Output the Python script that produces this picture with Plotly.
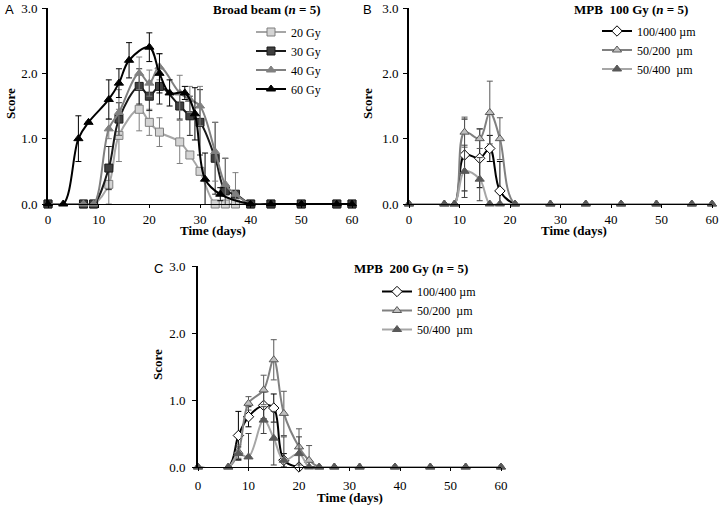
import plotly.graph_objects as go

# ---------------- Data ----------------
# Panel A: Broad beam
a_days = [0, 7, 9, 12, 14, 18, 20, 22, 26, 28, 30, 33, 35, 37, 40, 44, 50, 57, 60]
a_20 = [0, 0, 0, 0.3, 1.05, 1.45, 1.25, 1.1, 0.95, 0.75, 0.5, 0, 0, 0, 0, 0, 0, 0, 0]
a_20_err = [0, 0, 0, 0.3, 0.4, 0.33, 0.2, 0.22, 0.33, 0, 0, 0, 0, 0, 0, 0, 0, 0, 0]
a_30 = [0, 0, 0, 0.55, 1.3, 1.8, 1.65, 1.8, 1.5, 1.35, 1.25, 0.7, 0.2, 0.15, 0, 0, 0, 0, 0]
a_30_err = [0, 0, 0, 0.33, 0.25, 0.27, 0.22, 0.27, 0.2, 0.3, 0.5, 0.55, 0.5, 0, 0, 0, 0, 0, 0]
a_40 = [0, 0, 0, 1.15, 1.4, 2.0, 1.85, 2.1, 1.7, 1.6, 1.5, 0.8, 0.3, 0.15, 0, 0, 0, 0, 0]
a_40_err = [0, 0, 0, 0.15, 0.35, 0.25, 0.2, 0.2, 0.27, 0.2, 0.3, 0.45, 0.4, 0.33, 0, 0, 0, 0, 0]
a60_days = [0, 3, 6, 8, 12, 14, 16, 20, 22, 24, 27, 29, 31, 34, 40, 44, 50, 57, 60]
a_60 = [0, 0, 1.0, 1.25, 1.6, 1.85, 2.2, 2.4, 2.0, 1.7, 1.7, 1.38, 0.38, 0.15, 0, 0, 0, 0, 0]
a_60_err = [0, 0, 0.35, 0, 0.3, 0.22, 0.27, 0.22, 0.3, 0.2, 0.1, 0.4, 0.4, 0.1, 0, 0, 0, 0, 0]

# Panel B: MPB 100 Gy
b_days = [0, 7, 9, 11, 14, 16, 18, 21, 28, 35, 42, 49, 56, 60]
b_100_400 = [0, 0, 0, 0.75, 0.7, 0.85, 0.2, 0, 0, 0, 0, 0, 0, 0]
b_100_400_err = [0, 0, 0, 0.55, 0.45, 0.2, 0.45, 0, 0, 0, 0, 0, 0, 0]
b_50_200 = [0, 0, 0, 1.1, 1.0, 1.4, 1.0, 0, 0, 0, 0, 0, 0, 0]
b_50_200_err = [0, 0, 0, 0.23, 0.15, 0.48, 0.32, 0, 0, 0, 0, 0, 0, 0]
b_50_400 = [0, 0, 0, 0.5, 0.38, 0, 0, 0, 0, 0, 0, 0, 0, 0]
b_50_400_err = [0, 0, 0, 0.4, 0.33, 0, 0, 0, 0, 0, 0, 0, 0, 0]

# Panel C: MPB 200 Gy
c_days = [0, 6, 8, 10, 13, 15, 17, 20, 22, 24, 27, 32, 39, 46, 53, 60]
c_100_400 = [0, 0, 0.47, 0.75, 0.92, 0.88, 0.1, 0, 0, 0, 0, 0, 0, 0, 0, 0]
c_100_400_err = [0, 0, 0.36, 0.15, 0.2, 0.21, 0.1, 0, 0, 0, 0, 0, 0, 0, 0, 0]
c_50_200 = [0, 0, 0.23, 0.95, 1.15, 1.6, 0.8, 0.3, 0.1, 0, 0, 0, 0, 0, 0, 0]
c_50_200_err = [0, 0, 0.1, 0.1, 0.22, 0.3, 0.33, 0.27, 0.22, 0, 0, 0, 0, 0, 0, 0]
c_50_400 = [0, 0, 0.2, 0.15, 0.7, 0.43, 0.1, 0.2, 0, 0, 0, 0, 0, 0, 0, 0]
c_50_400_err = [0, 0, 0.1, 0.35, 0.2, 0.4, 0.35, 0.25, 0, 0, 0, 0, 0, 0, 0, 0]

x_ticks = [0, 10, 20, 30, 40, 50, 60]
y_ticks = [0, 1, 2, 3]

SERIF = "Liberation Serif, Times New Roman, serif"
SANS = "Liberation Sans, Arial, sans-serif"
W, H = 720, 506

fig = go.Figure()


def add(x, y, err, name, xa, ya, leg, line_color, symbol, fill, edge, err_color, shown=None):
    kw = {}
    if shown is not None:
        # points hidden beneath the dark triangles in the original
        kw = dict(selectedpoints=shown,
                  selected=dict(marker=dict(opacity=1)),
                  unselected=dict(marker=dict(opacity=0)))
    fig.add_trace(go.Scatter(
        x=x, y=y, name=name, mode="lines+markers",
        xaxis=xa, yaxis=ya, legend=leg,
        line=dict(color=line_color, width=2, shape="spline", smoothing=1),
        marker=dict(symbol=symbol, size=8, color=fill, line=dict(color=edge, width=1)),
        error_y=dict(type="data", array=err, color=err_color, thickness=1, width=3, visible=True),
        cliponaxis=False, **kw,
    ))


def shown_points(vals, top_vals):
    return [i for i, (v, t) in enumerate(zip(vals, top_vals)) if not (v == 0 and t == 0)]


# Panel A
add(a_days, a_20, a_20_err, "20 Gy", "x", "y", "legend", "#a6a6a6", "square", "#d4d4d4", "#7f7f7f", "#7f7f7f")
add(a_days, a_30, a_30_err, "30 Gy", "x", "y", "legend", "#1a1a1a", "square", "#3f3f3f", "#1a1a1a", "#262626")
add(a_days, a_40, a_40_err, "40 Gy", "x", "y", "legend", "#808080", "triangle-up", "#808080", "#808080", "#7f7f7f")
add(a60_days, a_60, a_60_err, "60 Gy", "x", "y", "legend", "#000000", "triangle-up", "#000000", "#000000", "#000000")

# Panel B
add(b_days, b_100_400, b_100_400_err, "100/400 µm", "x2", "y2", "legend2", "#000000", "diamond", "#ffffff", "#000000", "#000000",
    shown=shown_points(b_100_400, b_50_400))
add(b_days, b_50_200, b_50_200_err, "50/200\u00a0 µm", "x2", "y2", "legend2", "#808080", "triangle-up", "#bfbfbf", "#595959", "#595959")
add(b_days, b_50_400, b_50_400_err, "50/400\u00a0 µm", "x2", "y2", "legend2", "#a6a6a6", "triangle-up", "#595959", "#595959", "#404040")

# Panel C
add(c_days, c_100_400, c_100_400_err, "100/400 µm", "x3", "y3", "legend3", "#000000", "diamond", "#ffffff", "#000000", "#000000",
    shown=shown_points(c_100_400, c_50_400))
add(c_days, c_50_200, c_50_200_err, "50/200\u00a0 µm", "x3", "y3", "legend3", "#808080", "triangle-up", "#bfbfbf", "#595959", "#595959")
add(c_days, c_50_400, c_50_400_err, "50/400\u00a0 µm", "x3", "y3", "legend3", "#a6a6a6", "triangle-up", "#595959", "#595959", "#404040")


def px_x(p):
    return p / W


def px_y(p):
    return 1 - p / H


def xaxis(dom, anchor, standoff):
    return dict(domain=dom, anchor=anchor, range=[0, 60], tickvals=x_ticks,
                showline=True, linecolor="black", linewidth=1, showgrid=False, zeroline=False,
                ticks="outside", ticklen=3, tickcolor="black", automargin=False,
                ticklabelstandoff=standoff,
                tickfont=dict(family=SERIF, size=13, color="black"))


def yaxis(dom, anchor, standoff):
    return dict(domain=dom, anchor=anchor, range=[0, 3], tickvals=y_ticks, tickformat=".1f",
                showline=True, linecolor="black", linewidth=2, showgrid=False, zeroline=False,
                ticks="outside", ticklen=4, tickcolor="black", automargin=False,
                ticklabelstandoff=standoff,
                tickfont=dict(family=SERIF, size=13, color="black"))


legend_common = dict(xanchor="left", yanchor="top", bgcolor="rgba(0,0,0,0)",
                     font=dict(family=SERIF, size=12, color="black"), itemwidth=30,
                     tracegroupgap=0)

fig.update_layout(
    width=W, height=H, margin=dict(l=0, r=0, t=0, b=0, autoexpand=False),
    paper_bgcolor="white", plot_bgcolor="white",
    xaxis=xaxis([px_x(48), px_x(352)], "y", 0),
    yaxis=yaxis([px_y(204), px_y(8)], "x", 2),
    xaxis2=xaxis([px_x(409), px_x(712)], "y2", 0),
    yaxis2=yaxis([px_y(204), px_y(8)], "x2", 2),
    xaxis3=xaxis([px_x(198), px_x(501)], "y3", 3),
    yaxis3=yaxis([px_y(467), px_y(266)], "x3", 4),
    legend=dict(x=px_x(251), y=px_y(17.5), **legend_common),
    legend2=dict(x=px_x(597), y=px_y(16.5), **legend_common),
    legend3=dict(x=px_x(377), y=px_y(277), **legend_common),
    showlegend=True,
)

annotations = [
    # panel letters
    dict(text="A", x=px_x(9), y=px_y(9), xanchor="center", yanchor="middle", font=dict(family=SANS, size=13)),
    dict(text="B", x=px_x(367), y=px_y(9), xanchor="center", yanchor="middle", font=dict(family=SANS, size=13)),
    dict(text="C", x=px_x(158), y=px_y(268), xanchor="center", yanchor="middle", font=dict(family=SANS, size=13)),
    # panel titles
    dict(text="<b>Broad beam (<i>n</i> = 5)</b>", x=px_x(323), y=px_y(10), xanchor="right", yanchor="middle",
         font=dict(family=SERIF, size=13)),
    dict(text="<b>MPB\u00a0 100 Gy (<i>n</i> = 5)</b>", x=px_x(690), y=px_y(10), xanchor="right", yanchor="middle",
         font=dict(family=SERIF, size=13)),
    dict(text="<b>MPB\u00a0 200 Gy (<i>n</i> = 5)</b>", x=px_x(470), y=px_y(268), xanchor="right", yanchor="middle",
         font=dict(family=SERIF, size=13)),
    # axis titles
    dict(text="<b>Time (days)</b>", x=px_x(213), y=px_y(230), xanchor="center", yanchor="middle",
         font=dict(family=SERIF, size=13)),
    dict(text="<b>Time (days)</b>", x=px_x(574), y=px_y(230), xanchor="center", yanchor="middle",
         font=dict(family=SERIF, size=13)),
    dict(text="<b>Time (days)</b>", x=px_x(350), y=px_y(497), xanchor="center", yanchor="middle",
         font=dict(family=SERIF, size=13)),
    dict(text="<b>Score</b>", x=px_x(10), y=px_y(104), xanchor="center", yanchor="middle", textangle=-90,
         font=dict(family=SERIF, size=13)),
    dict(text="<b>Score</b>", x=px_x(367), y=px_y(104), xanchor="center", yanchor="middle", textangle=-90,
         font=dict(family=SERIF, size=13)),
    dict(text="<b>Score</b>", x=px_x(157), y=px_y(365), xanchor="center", yanchor="middle", textangle=-90,
         font=dict(family=SERIF, size=13)),
]
for a in annotations:
    a.update(xref="paper", yref="paper", showarrow=False)
    a["font"]["color"] = "black"
fig.update_layout(annotations=annotations)

fig.write_html("out.html", config={"displayModeBar": False},
               post_script="document.body.style.margin='0';document.body.style.padding='0';")
